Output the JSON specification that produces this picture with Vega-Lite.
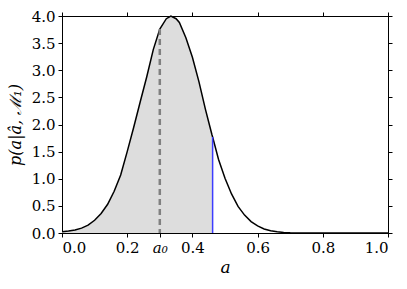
{
  "$schema": "https://vega.github.io/schema/vega-lite/v6.json",
  "autosize": "none",
  "width": 326,
  "height": 217,
  "padding": {"left": 62, "top": 16, "right": 19, "bottom": 56},
  "config": {
    "font": "DejaVu Serif",
    "view": {"stroke": "black", "strokeWidth": 1},
    "axis": {
      "grid": false,
      "domainColor": "black",
      "tickColor": "black",
      "tickSize": 4,
      "labelFont": "DejaVu Serif",
      "labelFontSize": 15,
      "labelColor": "black",
      "titleFont": "DejaVu Serif",
      "titleFontSize": 17,
      "titleFontWeight": "normal",
      "titleFontStyle": "italic",
      "titleColor": "black"
    }
  },
  "datasets": {
    "curve": [
      {"a": 0.00, "p": 0.025}, {"a": 0.02, "p": 0.035}, {"a": 0.04, "p": 0.055},
      {"a": 0.06, "p": 0.09}, {"a": 0.08, "p": 0.145}, {"a": 0.10, "p": 0.235},
      {"a": 0.12, "p": 0.36}, {"a": 0.14, "p": 0.53}, {"a": 0.16, "p": 0.77},
      {"a": 0.18, "p": 1.07}, {"a": 0.20, "p": 1.50}, {"a": 0.22, "p": 1.95},
      {"a": 0.24, "p": 2.42}, {"a": 0.26, "p": 2.88}, {"a": 0.28, "p": 3.38},
      {"a": 0.30, "p": 3.76}, {"a": 0.32, "p": 3.95}, {"a": 0.334, "p": 4.0},
      {"a": 0.35, "p": 3.95}, {"a": 0.36, "p": 3.88}, {"a": 0.38, "p": 3.60},
      {"a": 0.40, "p": 3.24}, {"a": 0.42, "p": 2.79}, {"a": 0.44, "p": 2.28},
      {"a": 0.46, "p": 1.81}, {"a": 0.462, "p": 1.77}, {"a": 0.48, "p": 1.36},
      {"a": 0.50, "p": 1.01}, {"a": 0.52, "p": 0.72}, {"a": 0.54, "p": 0.49},
      {"a": 0.56, "p": 0.33}, {"a": 0.58, "p": 0.21}, {"a": 0.60, "p": 0.13},
      {"a": 0.62, "p": 0.075}, {"a": 0.64, "p": 0.042}, {"a": 0.66, "p": 0.022},
      {"a": 0.68, "p": 0.011}, {"a": 0.70, "p": 0.005}, {"a": 0.75, "p": 0.001},
      {"a": 0.80, "p": 0.0}, {"a": 0.90, "p": 0.0}, {"a": 1.00, "p": 0.0}
    ],
    "marks": [
      {"kind": "a0", "a": 0.30, "p": 3.76},
      {"kind": "cut", "a": 0.462, "p": 1.77}
    ]
  },
  "resolve": {"axis": {"x": "independent", "y": "independent"}},
  "layer": [
    {
      "data": {"name": "curve"},
      "transform": [{"filter": "datum.a <= 0.4625"}],
      "mark": {"type": "area", "color": "#dddddd", "opacity": 1},
      "encoding": {
        "x": {
          "field": "a", "type": "quantitative",
          "scale": {"domain": [0, 1], "nice": false},
          "axis": {
            "orient": "bottom",
            "values": [0, 0.2, 0.3, 0.4, 0.6, 0.8, 1.0],
            "labelExpr": "datum.value == 0.3 ? 'a₀' : format(datum.value, '.1f')",
            "labelFontStyle": {"expr": "datum.value == 0.3 ? 'italic' : 'normal'"},
            "labelPadding": 3,
            "title": "a",
            "titlePadding": 4
          }
        },
        "y": {
          "field": "p", "type": "quantitative",
          "scale": {"domain": [0, 4], "nice": false},
          "axis": {
            "orient": "left",
            "values": [0, 0.5, 1, 1.5, 2, 2.5, 3, 3.5, 4],
            "format": ".1f",
            "labelPadding": 3,
            "title": "p(a|â, ℳ₁)",
            "titleFontSize": 16,
            "titlePadding": 8
          }
        }
      }
    },
    {
      "data": {"name": "curve"},
      "mark": {"type": "line", "color": "black", "strokeWidth": 1.5},
      "encoding": {
        "x": {"field": "a", "type": "quantitative",
          "axis": {"orient": "top", "values": [0, 0.2, 0.4, 0.6, 0.8, 1.0], "labels": false, "title": null}},
        "y": {"field": "p", "type": "quantitative",
          "axis": {"orient": "right", "values": [0, 0.5, 1, 1.5, 2, 2.5, 3, 3.5, 4], "labels": false, "title": null}}
      }
    },
    {
      "data": {"name": "marks"},
      "transform": [{"filter": "datum.kind == 'a0'"}],
      "mark": {"type": "rule", "color": "#808080", "strokeWidth": 2.5, "strokeDash": [6, 4]},
      "encoding": {
        "x": {"field": "a", "type": "quantitative", "axis": null},
        "y": {"field": "p", "type": "quantitative", "axis": null},
        "y2": {"datum": 0}
      }
    },
    {
      "data": {"name": "marks"},
      "transform": [{"filter": "datum.kind == 'cut'"}],
      "mark": {"type": "rule", "color": "#3c3cff", "strokeWidth": 1.5},
      "encoding": {
        "x": {"field": "a", "type": "quantitative", "axis": null},
        "y": {"field": "p", "type": "quantitative", "axis": null},
        "y2": {"datum": 0}
      }
    }
  ]
}
